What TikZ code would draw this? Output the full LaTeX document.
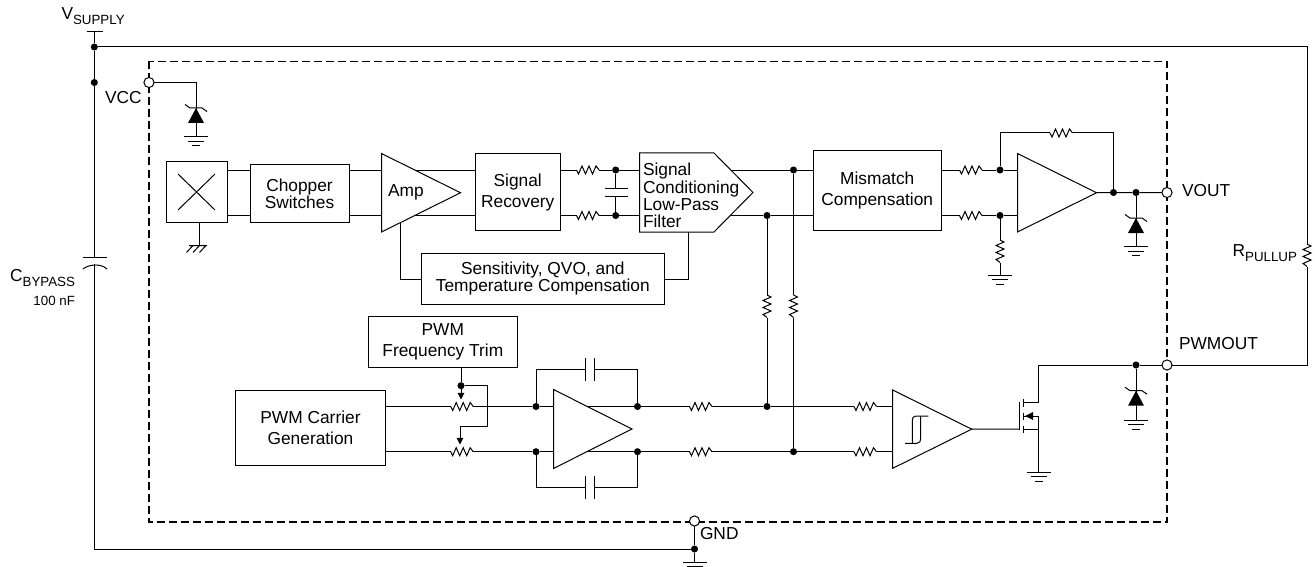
\documentclass[tikz,border=0pt]{standalone}
\usepackage{fontspec}
\setmainfont{Liberation Sans}
\usetikzlibrary{arrows.meta,calc}
\tikzset{
  x=0.75pt,y=-0.75pt,
  wire/.style={line width=0.75pt,line join=miter},
  dotnode/.style={circle,fill=black,draw=none,minimum size=5.3pt,inner sep=0pt,outer sep=0pt},
  pinnode/.style={circle,fill=white,draw=black,line width=0.75pt,minimum size=7.6pt,inner sep=0pt,outer sep=0pt},
  box/.style={draw=black,line width=0.75pt,fill=white,inner sep=0pt,outer sep=0pt,align=center},
  tight/.style={font=\fontsize{13}{13}\selectfont},
  loose/.style={font=\fontsize{13}{15.75}\selectfont},
  label/.style={inner sep=0pt,outer sep=0pt,font=\fontsize{13}{13}\selectfont},
  small label/.style={inner sep=0pt,outer sep=0pt,font=\fontsize{10}{10}\selectfont},
  sym/.style={line width=0.75pt,fill=white,draw=black},
  potarrow/.style={wire,-{Triangle[length=5pt,width=5pt]}},
  dashbox/.style={line width=1pt,dash pattern=on 6pt off 3pt}
}
\newcommand\sbs[1]{\raisebox{-0.28em}{\fontsize{10}{10}\selectfont #1}}
\newcommand\boxat[7][tight]{\node[box,#1,minimum width={(#5-#3)*0.75pt},minimum height={(#6-#4)*0.75pt}] (#2) at ({(#3+#5)/2},{(#4+#6)/2}) {#7};}
\newcommand\hres[3]{\coordinate (#1-a) at (#2,#3);\coordinate (#1-b) at (#2+22.5,#3);
  \draw[wire] (#1-a) -- ++(2,4) -- ++(3.5,-8) -- ++(3.5,8) -- ++(3.5,-8) -- ++(3.5,8) -- ++(3.5,-8) -- (#1-b);}
\newcommand\vres[3]{\coordinate (#1-a) at (#2,#3);\coordinate (#1-b) at (#2,#3+22.5);
  \draw[wire] (#1-a) -- ++(4,2) -- ++(-8,3.5) -- ++(8,3.5) -- ++(-8,3.5) -- ++(8,3.5) -- ++(-8,3.5) -- (#1-b);}
\newcommand\gndsym[1]{\draw[wire] ($(#1)+(-12,0)$) -- ++(24,0) ($(#1)+(-8,4.6)$) -- ++(16,0) ($(#1)+(-4,9)$) -- ++(8,0);}
\newcommand\zener[3]{\coordinate (#1) at (#2,#3);
  \fill[black] (#1) -- ++(8,15) -- ++(-16,0) -- cycle;
  \draw[wire] ($(#1)+(-11,-3.5)$) -- ++(5,3.5) -- ++(12,0) -- ++(5,3.5);}
\newcommand\tri[5]{\coordinate (#1-apex) at (#5,{(#3+#4)/2});
  \draw[sym] (#2,#3) -- (#1-apex) -- (#2,#4) -- cycle;}
\begin{document}
\begin{tikzpicture}
\useasboundingbox (0,0) rectangle (1315,567);
% rails
\coordinate (railA) at (0,170);
\coordinate (railB) at (0,215.5);
\coordinate (railO) at (0,192.5);
\coordinate (railC) at (0,406.5);
\coordinate (railD) at (0,451.7);
\coordinate (railP) at (0,365);
% dashed package outline
\draw[dashbox] (149,61.5) rectangle (1167,522);
% supply side
\coordinate (vs) at (94.3,32);
\draw[wire] (86.5,32) -- (102.5,32);
\node[dotnode] (dsup) at (94.3,47) {};
\node[dotnode] (dvcc) at (94.3,82.5) {};
\node[pinnode] (pvcc) at (149,82.5) {};
\node[pinnode] (pvout) at (1167,192.5) {};
\node[pinnode] (ppwm) at (1167,365) {};
\node[pinnode] (pgnd) at (694.5,521) {};
\coordinate (capT) at (94.3,257);
\coordinate (capB) at (94.3,264);
\node[dotnode] (dgnd) at (694.5,549) {};
\coordinate (gGnd) at (694.5,562);
\coordinate (corner) at (94.3,549);
\draw[wire] (vs) -- (dsup) -- (dvcc) -- (capT);
\draw[wire] (83,257) -- (107,257);
\draw[wire] (83,269) .. controls (88,264.5) and (101,263) .. (107,269);
\draw[wire] (capB) -- (corner) -- (dgnd);
\draw[wire] (pgnd) -- (dgnd) -- (gGnd);
\gndsym{gGnd}
% pull-up
\vres{rpu}{1307}{244}
\coordinate (puT) at (1307,47);
\draw[wire] (dsup) -- (puT) -- (rpu-a);
\draw[wire] (rpu-b) |- (ppwm);
% VCC zener
\coordinate (vccz) at (196,82.5);
\zener{zv}{196}{108}
\coordinate (gv) at (196,137);
\draw[wire] (pvcc) -- (vccz) -- (zv);
\draw[wire] (zv) -- (gv);
\gndsym{gv}
% upper chain wires
\boxat{hall}{166}{162}{227}{222}{}
\draw[wire] (178,174) -- (215,210) (215,174) -- (178,210);
\coordinate (hallG) at (199,245.5);
\draw[wire] (hall.south -| hallG) -- (hallG);
\draw[wire] (189,245.5) -- (207,245.5) (193,245.5) -- ++(-6.5,7) (199.5,245.5) -- ++(-6.5,7) (206,245.5) -- ++(-6.5,7);
\boxat{chop}{250}{164.7}{349}{222.5}{Chopper\\Switches}
\boxat[loose]{rec}{475.5}{153.7}{560}{230.7}{Signal\\Recovery}
\boxat[loose]{mis}{813}{151}{941.5}{230.5}{Mismatch\\Compensation}
\boxat{sens}{421.7}{253.3}{664}{304}{Sensitivity, QVO, and\\Temperature Compensation}
\draw[wire] (hall.east |- railA) -- (chop.west |- railA) (hall.east |- railB) -- (chop.west |- railB);
\draw[wire] (chop.east |- railA) -- (rec.west |- railA) (chop.east |- railB) -- (rec.west |- railB);
\coordinate (ampTap) at (400.5,279);
\draw[wire] (400.5,223) -- (ampTap) -- (sens.west |- ampTap);
\tri{amp}{381.5}{153.5}{232}{460.5}
\node[label] (ampl) at (406,192) {Amp};
% RC filter
\hres{r1}{576.5}{170}
\hres{r2}{576.5}{215.5}
\node[dotnode] (d1) at (615.7,170) {};
\node[dotnode] (d2) at (615.7,215.5) {};
\coordinate (cp1) at (615.7,188.7);
\coordinate (cp2) at (615.7,196.3);
\draw[wire] (rec.east |- railA) -- (r1-a) (r1-b) -- (d1);
\draw[wire] (rec.east |- railB) -- (r2-a) (r2-b) -- (d2);
\draw[wire] (d1) -- (cp1) (cp2) -- (d2);
\draw[wire] (604.5,188.7) -- (628,188.7) (604.5,196.3) -- (628,196.3);
% outputs of conditioning
\node[dotnode] (d3) at (793.5,170) {};
\node[dotnode] (d4) at (767,215.5) {};
\draw[wire] (d1) -- (d3) -- (mis.west |- railA);
\draw[wire] (d2) -- (d4) -- (mis.west |- railB);
\coordinate (sc) at (688.5,279.5);
\draw[wire] (sens.east |- sc) -- (sc) -- (688.5,232);
\draw[sym] (639.5,153) -- (714,153) -- (753,192.5) -- (714,232) -- (639.5,232) -- cycle;
\node[label,anchor=west,align=left,font=\fontsize{13}{13}\selectfont] (cond) at (643,195.5) {Signal\\Conditioning\\Low-Pass\\Filter};
% output amp
\hres{r3}{959.5}{170}
\hres{r4}{959.5}{215.5}
\node[dotnode] (d5) at (1000,170) {};
\node[dotnode] (d6) at (1000,215.5) {};
\hres{r5}{1050}{133}
\coordinate (fb1) at (1000,133);
\coordinate (fb2) at (1113.5,133);
\node[dotnode] (d7) at (1113.5,192.5) {};
\node[dotnode] (d8) at (1136,192.5) {};
\draw[wire] (mis.east |- railA) -- (r3-a) (r3-b) -- (d5) -- (1017.5,170);
\draw[wire] (mis.east |- railB) -- (r4-a) (r4-b) -- (d6) -- (1017.5,215.5);
\draw[wire] (d5) -- (fb1) -- (r5-a) (r5-b) -- (fb2) -- (d7);
\vres{r6}{1000}{240}
\coordinate (g6) at (1000,275);
\draw[wire] (d6) -- (r6-a) (r6-b) -- (g6);
\gndsym{g6}
\tri{oa}{1017.5}{153.5}{232}{1096.5}
\draw[wire] (oa-apex) -- (d7) -- (d8) -- (pvout);
\zener{zo}{1136}{218}
\coordinate (go) at (1136,246.5);
\draw[wire] (d8) -- (zo) (zo) -- (go);
\gndsym{go}
% PWM section
\boxat[loose]{trim}{368}{316.3}{517.7}{367.3}{PWM\\Frequency Trim}
\boxat[loose]{carr}{235.7}{390.7}{385.3}{465.7}{PWM Carrier\\Generation}
\hres{p1}{450.7}{406.5}
\hres{p2}{450.7}{451.7}
\node[dotnode] (d9) at (461,385.7) {};
\coordinate (w1) at (461,399.5);
\coordinate (w2) at (487,385.7);
\coordinate (w3) at (487,426);
\coordinate (w4) at (460,426);
\coordinate (w5) at (460,444.5);
\draw[wire] (trim.south -| d9) -- (d9);
\draw[potarrow] (d9) -- (w1);
\draw[wire] (d9) -- (w2) -- (w3) -- (w4);
\draw[potarrow] (w4) -- (w5);
\node[dotnode] (d10) at (536,406.5) {};
\node[dotnode] (d11) at (536,451.7) {};
\node[dotnode] (d12) at (637.5,406.5) {};
\node[dotnode] (d13) at (637.5,451.7) {};
\draw[wire] (carr.east |- railC) -- (p1-a) (p1-b) -- (d10) -- (d12);
\draw[wire] (carr.east |- railD) -- (p2-a) (p2-b) -- (d11) -- (d13);
\coordinate (ct1) at (536,369.5);
\coordinate (ct2) at (637.5,369.5);
\coordinate (cb1) at (536,487.7);
\coordinate (cb2) at (637.5,487.7);
\draw[wire] (d10) -- (ct1) -- (585.7,369.5) (594.3,369.5) -- (ct2) -- (d12);
\draw[wire] (585.7,358.3) -- (585.7,381) (594.3,358.3) -- (594.3,381);
\draw[wire] (d11) -- (cb1) -- (585.7,487.7) (594.3,487.7) -- (cb2) -- (d13);
\draw[wire] (585.7,476.3) -- (585.7,499) (594.3,476.3) -- (594.3,499);
\tri{ia}{553.5}{389.5}{468.5}{632}
% comparator inputs
\hres{r7}{689.5}{406.5}
\hres{r8}{689.5}{451.7}
\hres{r9}{854}{406.5}
\hres{r10}{854}{451.7}
\node[dotnode] (d14) at (767,406.5) {};
\node[dotnode] (d15) at (793.5,451.7) {};
\vres{r11}{767}{295}
\vres{r12}{793.5}{295}
\draw[wire] (d4) -- (r11-a) (r11-b) -- (d14);
\draw[wire] (d3) -- (r12-a) (r12-b) -- (d15);
\draw[wire] (d12) -- (r7-a) (r7-b) -- (d14) -- (r9-a) (r9-b) -- (892.7,406.5);
\draw[wire] (d13) -- (r8-a) (r8-b) -- (d15) -- (r10-a) (r10-b) -- (892.7,451.7);
\tri{cmp}{892.7}{390}{468.3}{971.7}
\draw[wire] (905,443.3) -- (917,443.3) .. controls (920,443.3) and (920.7,441) .. (920.7,438) -- (920.7,416);
\draw[wire] (912.3,443.3) -- (912.3,421) .. controls (912.3,418) and (913,416) .. (916,416) -- (928.3,416);
% MOSFET
\coordinate (gate) at (1019,429);
\coordinate (drain) at (1038.7,402.7);
\coordinate (bulk) at (1038.7,416);
\coordinate (src) at (1038.7,429);
\coordinate (gm) at (1038.7,472);
\draw[wire] (cmp-apex) -- (gate);
\draw[wire] (1019,401.7) -- (1019,430);
\draw[wire] (1023,399) -- (1023,406.5) (1023,412.5) -- (1023,419.5) (1023,425.5) -- (1023,432.5);
\draw[wire] (1023,402.7) -- (drain) (1023,416) -- (bulk) (1023,429) -- (src);
\fill[black] (1025,416) -- (1033,412) -- (1033,420) -- cycle;
\node[dotnode] (d16) at (1136,365) {};
\coordinate (dtop) at (1038.7,365);
\draw[wire] (drain) -- (dtop) -- (d16) -- (ppwm);
\draw[wire] (bulk) -- (src) -- (gm);
\gndsym{gm}
\zener{zp}{1136}{390.7}
\coordinate (gp) at (1136,420);
\draw[wire] (d16) -- (zp) (zp) -- (gp);
\gndsym{gp}
% labels
\node[label,anchor=west] (lsup) at (61.5,16) {V\sbs{SUPPLY}};
\node[label,anchor=west] (lvcc) at (105,98) {VCC};
\node[label,anchor=east] (lcb) at (75,278) {C\sbs{BYPASS}};
\node[small label,anchor=east] (lcv) at (75,301) {100 nF};
\node[label,anchor=west] (lvout) at (1182,190.7) {VOUT};
\node[label,anchor=west] (lpwm) at (1179,344) {PWMOUT};
\node[label,anchor=east] (lrp) at (1297,253) {R\sbs{PULLUP}};
\node[label,anchor=west] (lgnd) at (700,534) {GND};
\end{tikzpicture}
\end{document}
